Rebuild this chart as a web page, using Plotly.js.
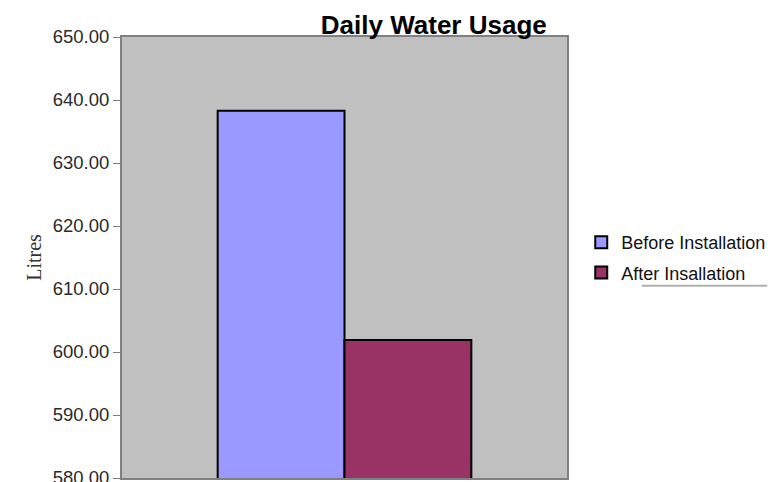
<!DOCTYPE html>
<html>
<head>
<meta charset="utf-8">
<script src="https://cdn.plot.ly/plotly-3.0.1.min.js"></script>
<style>html,body{margin:0;padding:0;background:#fff;}#chart{width:776px;height:482px;}</style>
</head>
<body>
<div id="chart"></div>
<script>
var categories = [''];
var seriesNames = ['Before Installation', 'After Insallation'];
var beforeValues = [638.3];
var afterValues = [601.9];
var yTickValues = [580, 590, 600, 610, 620, 630, 640, 650];
var yTickLabels = ['580.00', '590.00', '600.00', '610.00', '620.00', '630.00', '640.00', '650.00'];

var traces = [
  {type: 'bar', x: categories, y: beforeValues, name: seriesNames[0], legendgroup: 'a',
   marker: {color: '#9999FF', line: {color: '#000000', width: 2}}, hoverinfo: 'none'},
  {type: 'bar', x: categories, y: afterValues, name: seriesNames[1], legendgroup: 'b',
   marker: {color: '#993366', line: {color: '#000000', width: 2}}, hoverinfo: 'none'}
];

var layout = {
  width: 776, height: 482,
  margin: {l: 122, r: 209, t: 37, b: 4, pad: 0},
  paper_bgcolor: '#ffffff',
  plot_bgcolor: '#C0C0C0',
  barmode: 'group',
  bargap: 0.43,
  bargroupgap: 0,
  title: {text: '<b>Daily Water Usage</b>', x: 0.559, xanchor: 'center', y: 0.948, yanchor: 'middle',
          font: {family: 'Liberation Sans, Arial, sans-serif', size: 26, color: '#000000'}},
  xaxis: {showticklabels: false, ticks: '', showgrid: false, zeroline: false,
          showline: true, linecolor: '#808080', linewidth: 2, mirror: true},
  yaxis: {range: [580, 650], tickvals: yTickValues, ticktext: yTickLabels,
          ticks: 'outside', ticklen: 7, tickcolor: '#808080', tickwidth: 1, ticklabeloverflow: 'allow',
          showgrid: false, zeroline: false, showline: true, linecolor: '#808080', linewidth: 2, mirror: true,
          tickfont: {family: 'Liberation Sans, Arial, sans-serif', size: 18.5, color: '#2a2a2a'},
          title: {text: 'Litres', standoff: 6, font: {family: 'Liberation Serif, Times New Roman, serif', size: 20, color: '#333333'}}},
  showlegend: true,
  legend: {x: 1.032, xanchor: 'left', y: 0.5, yanchor: 'middle', traceorder: 'grouped', tracegroupgap: 4,
           bgcolor: 'rgba(0,0,0,0)', itemwidth: 30,
           font: {family: 'Liberation Sans, Arial, sans-serif', size: 18, color: '#111111'}},
  shapes: [
    {type: 'line', xref: 'paper', yref: 'paper', x0: 1.168, x1: 1.45, y0: 0.436, y1: 0.436,
     line: {color: '#b0b0b0', width: 2}}
  ]
};

Plotly.newPlot('chart', traces, layout, {displayModeBar: false, staticPlot: true});
</script>
</body>
</html>
